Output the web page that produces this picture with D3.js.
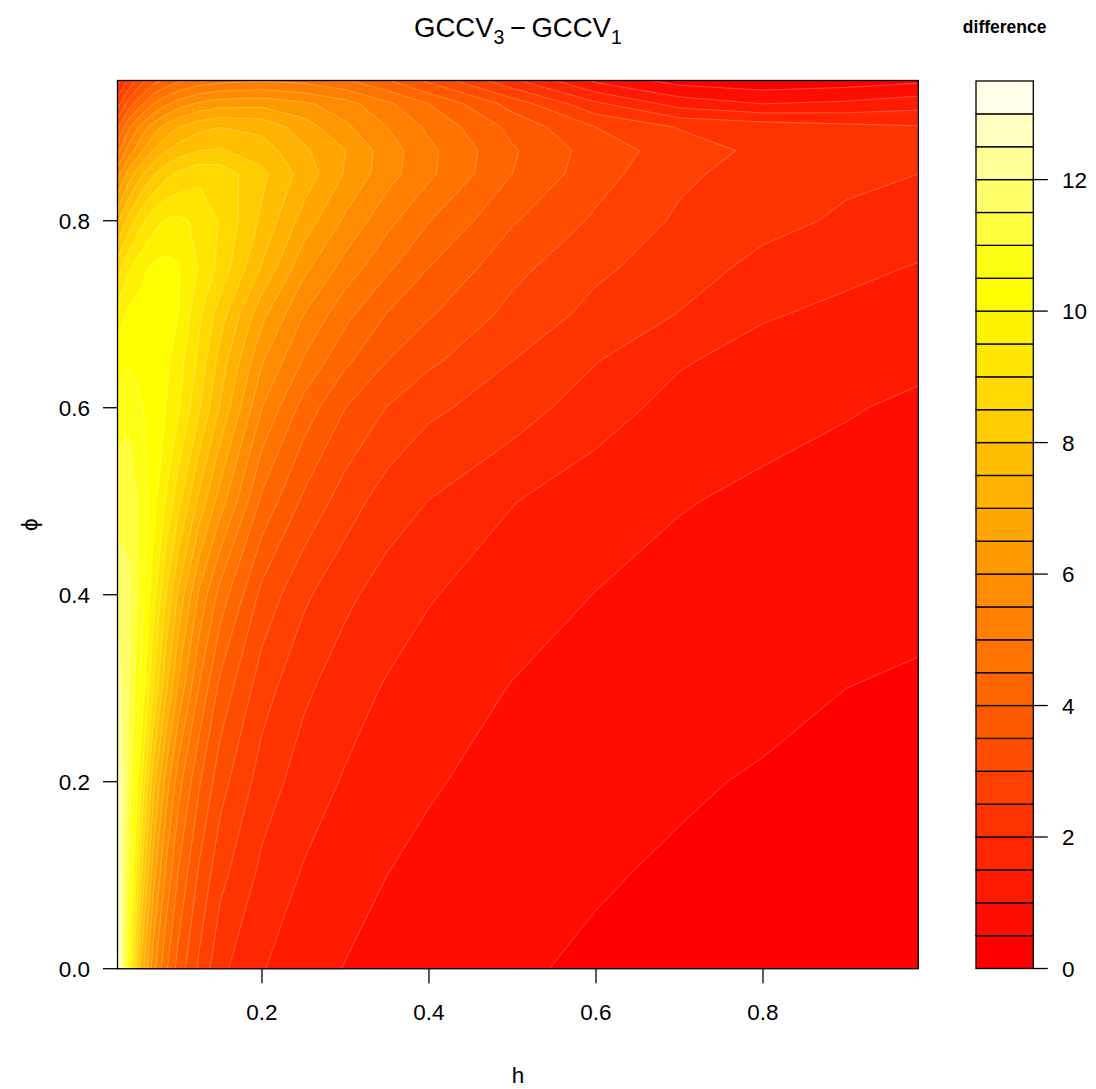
<!DOCTYPE html>
<html>
<head>
<meta charset="utf-8">
<script src="https://cdn.jsdelivr.net/npm/d3@7"></script>
<style>
  body { margin: 0; background: #ffffff; }
  text { font-family: "Liberation Sans", Arial, Helvetica, sans-serif; fill: #000; }
</style>
</head>
<body>
<svg id="chart" width="1096" height="1089"></svg>
<script>
// Grid of the GCCV difference surface: h along columns, phi along rows.
const hNodes = [0.027, 0.04, 0.055, 0.07, 0.085, 0.1, 0.125, 0.15, 0.2, 0.25, 0.3, 0.35, 0.4, 0.5, 0.6, 0.7, 0.8, 0.9, 0.986];
const phiNodes = [0, 0.1, 0.2, 0.3, 0.4, 0.5, 0.6, 0.65, 0.7, 0.75, 0.8, 0.85, 0.875, 0.9, 0.925, 0.95];

// GCCV3 - GCCV1, one row per phi value (bottom to top), one entry per h value.
const diffRows = [
  [13.25, 10.2, 7.4, 5.7, 4.6, 3.8, 2.9, 2.12, 1.53, 1.2, 0.98, 0.83, 0.71, 0.54, 0.45, 0.385, 0.33, 0.29, 0.26],
  [13.05, 11.0, 8.6, 6.7, 5.4, 4.45, 3.4, 2.65, 1.87, 1.45, 1.2, 1.0, 0.87, 0.66, 0.53, 0.455, 0.4, 0.355, 0.32],
  [12.7, 11.4, 9.6, 7.7, 6.3, 5.2, 4.05, 3.2, 2.27, 1.76, 1.45, 1.22, 1.05, 0.82, 0.67, 0.54, 0.47, 0.415, 0.38],
  [12.25, 11.55, 10.45, 9.0, 7.6, 6.4, 4.95, 3.85, 2.72, 2.1, 1.72, 1.45, 1.25, 0.98, 0.8, 0.68, 0.585, 0.5, 0.46],
  [11.8, 11.6, 10.8, 9.7, 8.5, 7.4, 5.9, 4.8, 3.35, 2.6, 2.11, 1.78, 1.54, 1.21, 0.99, 0.84, 0.72, 0.63, 0.58],
  [11.3, 11.35, 10.9, 10.2, 9.45, 8.65, 7.35, 6.25, 4.38, 3.4, 2.75, 2.25, 1.99, 1.52, 1.22, 1.03, 0.91, 0.83, 0.78],
  [10.75, 10.85, 10.55, 10.3, 10.0, 9.55, 8.55, 7.45, 5.5, 4.3, 3.5, 2.98, 2.6, 2.25, 1.72, 1.33, 1.15, 1.03, 0.93],
  [10.3, 10.45, 10.4, 10.3, 10.1, 9.75, 8.85, 7.8, 6.05, 4.95, 4.1, 3.5, 3.1, 2.5, 2.02, 1.55, 1.3, 1.16, 1.08],
  [9.7, 10.1, 10.2, 10.2, 10.15, 10.0, 9.1, 8.25, 6.65, 5.5, 4.65, 3.98, 3.55, 2.85, 2.35, 1.98, 1.55, 1.38, 1.25],
  [8.75, 9.4, 9.85, 10.1, 10.15, 10.05, 9.45, 8.85, 7.45, 6.15, 5.3, 4.6, 4.0, 3.15, 2.6, 2.25, 1.85, 1.62, 1.47],
  [7.4, 8.2, 8.85, 9.3, 9.55, 9.6, 9.4, 8.95, 7.9, 6.8, 5.9, 5.15, 4.52, 3.55, 2.92, 2.42, 2.16, 1.92, 1.75],
  [5.8, 6.7, 7.4, 7.95, 8.35, 8.6, 8.85, 8.8, 8.12, 7.3, 6.45, 5.7, 5.1, 4.0, 3.2, 2.6, 2.28, 2.1, 2.0],
  [4.8, 5.7, 6.4, 7.0, 7.45, 7.75, 8.0, 8.05, 7.75, 7.1, 6.5, 5.75, 5.12, 4.06, 3.27, 2.75, 2.38, 2.3, 2.25],
  [3.9, 4.9, 5.65, 6.25, 6.7, 7.0, 7.35, 7.5, 7.35, 6.75, 6.1, 5.5, 4.9, 3.85, 3.0, 2.47, 2.3, 2.15, 2.05],
  [2.8, 3.7, 4.4, 5.0, 5.4, 5.75, 6.1, 6.3, 6.35, 6.1, 5.7, 5.1, 4.5, 3.3, 2.1, 1.3, 1.0, 1.1, 1.3],
  [1.8, 2.6, 3.3, 3.8, 4.15, 4.4, 4.7, 4.85, 4.95, 4.85, 4.55, 4.05, 3.4, 2.1, 0.9, 0.3, 0.15, 0.25, 0.4]
];

// Contour levels (0 to 13.5 by 0.5) and axis ticks
const levels = d3.range(0, 13.5001, 0.5);
const hTicks = [0.2, 0.4, 0.6, 0.8];
const phiTicks = [0, 0.2, 0.4, 0.6, 0.8];
const keyTicks = [0, 2, 4, 6, 8, 10, 12];

// R-style heat.colors(n): reds to yellow, then yellow fading to white
function heatColors(n) {
  const j = Math.floor(n / 4), i = n - j;
  const out = [];
  for (let k = 0; k < i; k++) {
    const g = Math.round(255 * k / (i - 1));
    out.push(d3.rgb(255, g, 0).formatHex());
  }
  for (let k = 0; k < j; k++) {
    const s = (1 - 1 / (2 * j)) - k * ((1 - 1 / j) / (j - 1));
    out.push(d3.rgb(255, 255, Math.round(255 * (1 - s))).formatHex());
  }
  return out;
}
const bandColors = heatColors(levels.length - 1);

const svg = d3.select("#chart");
const FS = 22.5;

const plot = { left: 117.5, right: 918.3, top: 80.5, bottom: 968.7 };
const key = { left: 976, right: 1033.3, top: 81, bottom: 968.5 };

const x = d3.scaleLinear().domain([hNodes[0], hNodes[hNodes.length - 1]]).range([plot.left, plot.right]);
const y = d3.scaleLinear().domain([phiNodes[0], phiNodes[phiNodes.length - 1]]).range([plot.bottom, plot.top]);

// Grid index -> data coordinate (grid is not evenly spaced)
const nx = hNodes.length, ny = phiNodes.length;
const colToH = d3.scaleLinear().domain(d3.range(nx)).range(hNodes).clamp(true);
const rowToPhi = d3.scaleLinear().domain(d3.range(ny)).range(phiNodes).clamp(true);

const gridValues = diffRows.flat();
const bands = d3.contours().size([nx, ny]).thresholds(levels.slice(0, -1))(gridValues);

const toScreen = d3.geoTransform({
  point(cx, cy) {
    this.stream.point(x(colToH(cx - 0.5)), y(rowToPhi(cy - 0.5)));
  }
});
const bandPath = d3.geoPath(toScreen);

const field = svg.append("g");
field.selectAll("path.band")
  .data(bands)
  .join("path")
  .attr("class", "band")
  .attr("d", bandPath)
  .attr("fill", (d, i) => bandColors[i])
  .attr("stroke", (d, i) => bandColors[i])
  .attr("stroke-width", 0.4);

// faint light seams where neighbouring bands meet
field.selectAll("path.seam")
  .data(bands.slice(1))
  .join("path")
  .attr("class", "seam")
  .attr("d", bandPath)
  .attr("fill", "none")
  .attr("stroke", "#ffffff")
  .attr("stroke-opacity", 0.3)
  .attr("stroke-width", 0.8);

// Frame
svg.append("rect")
  .attr("x", plot.left).attr("y", plot.top)
  .attr("width", plot.right - plot.left).attr("height", plot.bottom - plot.top)
  .attr("fill", "none").attr("stroke", "#000").attr("stroke-width", 1.3);

const TICK = 14.5;

// Bottom axis
const xAxis = svg.append("g");
hTicks.forEach(t => {
  xAxis.append("line")
    .attr("x1", x(t)).attr("x2", x(t))
    .attr("y1", plot.bottom).attr("y2", plot.bottom + TICK)
    .attr("stroke", "#000").attr("stroke-width", 1.3);
  xAxis.append("text")
    .attr("x", x(t)).attr("y", 1020)
    .attr("text-anchor", "middle")
    .attr("font-size", FS)
    .text(d3.format(".1f")(t));
});

// Left axis
const yAxis = svg.append("g");
phiTicks.forEach(t => {
  yAxis.append("line")
    .attr("x1", plot.left - TICK).attr("x2", plot.left)
    .attr("y1", y(t)).attr("y2", y(t))
    .attr("stroke", "#000").attr("stroke-width", 1.3);
  yAxis.append("text")
    .attr("x", 90).attr("y", y(t))
    .attr("dy", "0.36em")
    .attr("text-anchor", "end")
    .attr("font-size", FS)
    .text(d3.format(".1f")(t));
});

// Axis titles
svg.append("text")
  .attr("x", (plot.left + plot.right) / 2).attr("y", 1083)
  .attr("text-anchor", "middle").attr("font-size", FS)
  .text("h");
svg.append("text")
  .attr("transform", `translate(37,${(plot.top + plot.bottom) / 2}) rotate(-90)`)
  .attr("text-anchor", "middle").attr("font-size", FS)
  .text("\u03d5");

// Main title: GCCV_3 - GCCV_1
const title = svg.append("text")
  .attr("x", (plot.left + plot.right) / 2).attr("y", 37)
  .attr("text-anchor", "middle").attr("font-size", 27.5);
title.append("tspan").text("GCCV");
title.append("tspan").attr("font-size", 19.5).attr("dy", 7).text("3");
title.append("tspan").attr("dy", -7).text("\u2009\u2212\u2009GCCV");
title.append("tspan").attr("font-size", 19.5).attr("dy", 7).text("1");

// Colour key
const k = d3.scaleLinear().domain([levels[0], levels[levels.length - 1]]).range([key.bottom, key.top]);
const keyG = svg.append("g");
keyG.selectAll("rect")
  .data(d3.pairs(levels))
  .join("rect")
  .attr("x", key.left)
  .attr("width", key.right - key.left)
  .attr("y", d => k(d[1]))
  .attr("height", d => k(d[0]) - k(d[1]))
  .attr("fill", (d, i) => bandColors[i])
  .attr("stroke", "#000")
  .attr("stroke-width", 1.3);

keyTicks.forEach(t => {
  keyG.append("line")
    .attr("x1", key.right).attr("x2", key.right + TICK)
    .attr("y1", k(t)).attr("y2", k(t))
    .attr("stroke", "#000").attr("stroke-width", 1.3);
  keyG.append("text")
    .attr("x", 1062).attr("y", k(t))
    .attr("dy", "0.36em")
    .attr("font-size", FS)
    .text(t);
});

svg.append("text")
  .attr("x", (key.left + key.right) / 2).attr("y", 33)
  .attr("text-anchor", "middle")
  .attr("font-size", 17.5).attr("font-weight", "bold")
  .text("difference");
</script>
</body>
</html>
